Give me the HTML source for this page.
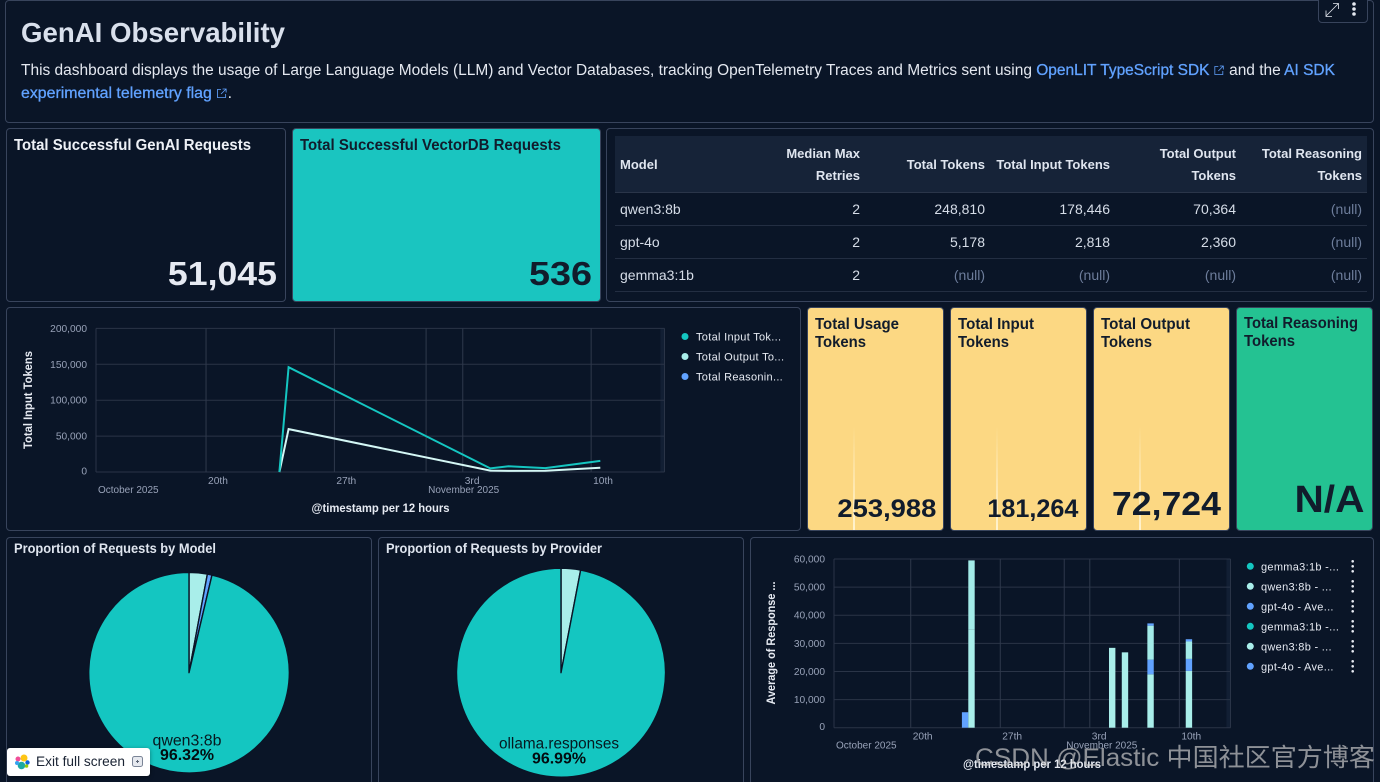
<!DOCTYPE html>
<html lang="en">
<head>
<meta charset="utf-8">
<title>GenAI Observability</title>
<style>
html,body{margin:0;padding:0;background:#0a1527;}
html{width:1380px;height:782px;overflow:hidden;}
body{width:1380px;height:782px;overflow:hidden;position:relative;font-family:"Liberation Sans","Noto Sans CJK SC",sans-serif;color:#dfe5ef;}
.panel{position:absolute;box-sizing:border-box;border:1px solid #38445c;border-radius:4px;background:#0a1527;}
.open{border-bottom:none;border-radius:4px 4px 0 0;}
.t{position:absolute;white-space:nowrap;display:inline-block;}
.b{font-weight:700;}
a{color:#61a2ff;text-decoration:none;font-weight:400;-webkit-text-stroke:.3px #61a2ff;}
.dark{color:#111c2c;}
.num{line-height:1;font-weight:700;}
.ct{font-size:15.5px;font-weight:700;line-height:17px;color:#111c2c;}
svg text{font-family:"Liberation Sans",sans-serif;}
table{position:absolute;left:615px;top:136px;width:752px;border-collapse:collapse;table-layout:fixed;font-size:14px;}
th{background:#162338;font-size:13px;font-weight:700;line-height:22px;height:56px;padding:2px 5px 0;text-align:right;color:#dfe5ef;border-bottom:1px solid #2a3549;box-sizing:border-box;}
td{height:33px;padding:0 5px;text-align:right;color:#d6dde8;border-bottom:1px solid #232e42;box-sizing:border-box;}
th:first-child,td:first-child{text-align:left;}
td.null{color:#6d7d9b;}
</style>
</head>
<body>

<div class="panel" style="left:5px;top:0;width:1369px;height:123px"></div>
<div class="t b" data-w="264" style="left:21px;top:16px;font-size:28px;line-height:34px;color:#d9e0ec">GenAI Observability</div>
<div class="t" data-w="1314" style="left:21px;top:60px;font-size:15.5px;line-height:22px;color:#e4e8f0">This dashboard displays the usage of Large Language Models (LLM) and Vector Databases, tracking OpenTelemetry Traces and Metrics sent using <a href="#">OpenLIT TypeScript SDK</a> <svg width="11" height="11" viewBox="0 0 11 11" style="vertical-align:-1px"><path d="M5 1.5H1.5v8h8V6M6.5 1H10v3.500M10 1L5 6" fill="none" stroke="#61a2ff" stroke-width=".8"/></svg> and the <a href="#">AI SDK</a></div>
<div class="t" data-w="211" style="left:21px;top:83px;font-size:15.5px;line-height:22px;color:#e4e8f0"><a href="#">experimental telemetry flag</a> <svg width="11" height="11" viewBox="0 0 11 11" style="vertical-align:-1px"><path d="M5 1.5H1.500v8h8V6M6.500 1H10v3.500M10 1L5 6" fill="none" stroke="#61a2ff" stroke-width=".8"/></svg>.</div>

<div style="position:absolute;left:1318px;top:-2px;width:50px;height:25px;box-sizing:border-box;border:1px solid #38445c;border-radius:0 0 4px 4px;background:#0a1527">
  <svg width="50" height="25" style="position:absolute;left:-1px;top:-1px">
    <g><path d="M8 18L20 6M15 5.500h5.500V11M8 12.500V18.500H14" fill="none" stroke="#e4e8f0" stroke-width=".8"/></g>
    <g fill="#e4e8f0"><circle cx="36" cy="6" r="1.800"/><circle cx="36" cy="11" r="1.800"/><circle cx="36" cy="16" r="1.800"/></g>
  </svg>
</div>

<!-- stat panels -->
<div class="panel" style="left:6px;top:128px;width:280px;height:174px"></div>
<div class="t b" data-w="237" style="left:14px;top:137px;font-size:15.5px;line-height:18px;color:#eef1f6">Total Successful GenAI Requests</div>
<div class="t num" data-w="109" style="right:1103px;top:257px;font-size:33px;color:#e6eaf2">51,045</div>

<div class="panel" style="left:292px;top:128px;width:309px;height:174px;background:#1ac5c0"></div>
<div class="t b dark" data-w="261" style="left:300px;top:137px;font-size:15.5px;line-height:18px">Total Successful VectorDB Requests</div>
<div class="t num dark" data-w="63" style="right:788px;top:257px;font-size:33px">536</div>

<!-- table -->
<div class="panel" style="left:606px;top:128px;width:768px;height:174px"></div>
<table>
<colgroup><col style="width:125px"><col style="width:125px"><col style="width:125px"><col style="width:125px"><col style="width:126px"><col style="width:126px"></colgroup>
<thead><tr>
<th>Model</th>
<th>Median Max<br>Retries</th>
<th>Total Tokens</th>
<th>Total Input Tokens</th>
<th>Total Output<br>Tokens</th>
<th>Total Reasoning<br>Tokens</th>
</tr></thead>
<tbody>
<tr><td>qwen3:8b</td><td>2</td><td>248,810</td><td>178,446</td><td>70,364</td><td class="null">(null)</td></tr>
<tr><td>gpt-4o</td><td>2</td><td>5,178</td><td>2,818</td><td>2,360</td><td class="null">(null)</td></tr>
<tr><td>gemma3:1b</td><td>2</td><td class="null">(null)</td><td class="null">(null)</td><td class="null">(null)</td><td class="null">(null)</td></tr>
</tbody>
</table>

<!-- line chart panel -->
<div class="panel" style="left:6px;top:307px;width:795px;height:224px"></div>

<!-- token cards -->
<div class="panel" style="left:807px;top:307px;width:137px;height:224px;background:#fcd883;overflow:hidden"><div style="position:absolute;left:45px;top:118px;width:2px;height:106px;background:linear-gradient(#fcd88300,#fff3d0)"></div></div>
<div class="panel" style="left:950px;top:307px;width:137px;height:224px;background:#fcd883;overflow:hidden"><div style="position:absolute;left:45px;top:118px;width:2px;height:106px;background:linear-gradient(#fcd88300,#fff3d0)"></div></div>
<div class="panel" style="left:1093px;top:307px;width:137px;height:224px;background:#fcd883;overflow:hidden"><div style="position:absolute;left:45px;top:118px;width:2px;height:106px;background:linear-gradient(#fcd88300,#fff3d0)"></div></div>
<div class="panel" style="left:1236px;top:307px;width:137px;height:224px;background:#24c292"></div>

<div class="t ct" data-w="84" style="left:815px;top:316px">Total Usage</div>
<div class="t ct" data-w="51" style="left:815px;top:334px">Tokens</div>
<div class="t ct" data-w="76" style="left:958px;top:316px">Total Input</div>
<div class="t ct" data-w="51" style="left:958px;top:334px">Tokens</div>
<div class="t ct" data-w="89" style="left:1101px;top:316px">Total Output</div>
<div class="t ct" data-w="51" style="left:1101px;top:334px">Tokens</div>
<div class="t ct" data-w="114" style="left:1244px;top:315px">Total Reasoning</div>
<div class="t ct" data-w="51" style="left:1244px;top:333px">Tokens</div>

<div class="t num dark" data-w="99" style="right:444px;top:497px;font-size:25px">253,988</div>
<div class="t num dark" data-w="91" style="right:302px;top:497px;font-size:25px">181,264</div>
<div class="t num dark" data-w="109" style="right:159px;top:487px;font-size:33px">72,724</div>
<div class="t num dark" data-w="70" style="right:16px;top:481px;font-size:38px">N/A</div>

<!-- bottom panels -->
<div class="panel open" style="left:6px;top:537px;width:366px;height:245px"></div>
<div class="t b" data-w="202" style="left:14px;top:541px;font-size:13.500px;line-height:16px">Proportion of Requests by Model</div>
<div class="panel open" style="left:378px;top:537px;width:366px;height:245px"></div>
<div class="t b" data-w="216" style="left:386px;top:541px;font-size:13.500px;line-height:16px">Proportion of Requests by Provider</div>
<div class="panel open" style="left:750px;top:537px;width:624px;height:245px"></div>

<svg id="charts" width="1380" height="782" style="position:absolute;left:0;top:0"></svg>

<div class="t" data-w="400" style="left:975px;top:742px;font-size:25px;line-height:32px;color:rgba(205,205,205,.68)">CSDN @Elastic 中国社区官方博客</div>

<div style="position:absolute;left:7px;top:748px;width:143px;height:28px;background:#fff;border-radius:3px;box-shadow:0 1px 4px rgba(0,0,0,.4)">
  <svg width="24" height="24" style="position:absolute;left:3px;top:2px">
    <circle cx="14" cy="8" r="3.500" fill="#fec514"/><circle cx="8" cy="9" r="2.500" fill="#f04e98"/><circle cx="17.500" cy="12.500" r="2.200" fill="#0b64dd"/><circle cx="11.500" cy="15.500" r="3.800" fill="#1ba9a5"/><circle cx="7" cy="13" r="2" fill="#36a2ef"/><circle cx="16.500" cy="16" r="1.800" fill="#93c90e"/>
  </svg>
  <div class="t" data-w="89" style="left:29px;top:6px;font-size:13.500px;line-height:16px;color:#1a2333">Exit full screen</div>
  <svg width="14" height="14" style="position:absolute;left:124px;top:7px"><rect x="1.500" y="1.500" width="10" height="10" rx="2" fill="#e6e9ef" stroke="#7a8496"/><path d="M5 6.500h3M6.500 5v3" stroke="#5a6474"/></svg>
</div>

<script>
/* ---- line chart data ---- */
var lineDates = ['2025-10-24T00:00Z','2025-10-24T12:00Z','2025-11-04T12:00Z','2025-11-05T12:00Z','2025-11-07T12:00Z','2025-11-10T12:00Z'];
var inputTokens = [0,146000,5000,8000,5500,15500];
var outputTokens = [0,59700,2000,1500,1800,6000];
var lineLegend = ['Total Input Tok...','Total Output To...','Total Reasonin...'];
var lineYTicks = [0,50000,100000,150000,200000];

/* ---- shared time axis ---- */
var timeDomain = ['2025-10-14T00:00Z','2025-11-14T00:00Z'];
var timeTicks = ['2025-10-20T00:00Z','2025-10-27T00:00Z','2025-11-03T00:00Z','2025-11-10T00:00Z'];
var timeTickLabels = ['20th','27th','3rd','10th'];
var monthTicks = ['2025-10-14T00:00Z','2025-11-01T00:00Z'];
var monthTickLabels = ['October 2025','November 2025'];

/* ---- bar chart data ---- */
var barDates = ['2025-10-24T00:00Z','2025-10-24T12:00Z','2025-11-04T12:00Z','2025-11-05T12:00Z','2025-11-07T12:00Z','2025-11-10T12:00Z'];
var qwenResponseA = [0,35000,28400,26800,19000,20200];
var gptResponseA = [5500,0,0,0,5200,4270];
var gemmaResponseA = [0,0,0,0,0,0];
var qwenResponseB = [0,24500,0,0,12100,6200];
var gptResponseB = [0,0,0,0,800,800];
var gemmaResponseB = [0,0,0,0,0,0];
var barYTicks = [0,10000,20000,30000,40000,50000,60000];
var barLegend = ['gemma3:1b -...','qwen3:8b - ...','gpt-4o - Ave...','gemma3:1b -...','qwen3:8b - ...','gpt-4o - Ave...'];

/* ---- pie data ---- */
var modelNames = ['gemma3:1b','gpt-4o','qwen3:8b'];
var modelShares = [2.93,0.75,96.32];
var providerNames = ['openai.responses','ollama.responses'];
var providerShares = [3.01,96.99];

var TEAL = '#14c6c1', LIGHT = '#a9eeea', BLUE = '#61a2ff', WHITEISH = '#d4f7f5';
var GRID = '#2a3447', TICK = '#98a2b8';
var NS = 'http://www.w3.org/2000/svg';
var root = document.getElementById('charts');

function mk(parent, tag, attrs, text) {
  var e = document.createElementNS(NS, tag);
  for (var k in attrs) e.setAttribute(k, attrs[k]);
  if (text !== undefined) e.textContent = text;
  parent.appendChild(e);
  return e;
}
function fmt(v) { return v.toLocaleString('en-US'); }
function ms(d) { return Date.parse(d); }
function timeScale(x0, x1) {
  var a = ms(timeDomain[0]), b = ms(timeDomain[1]);
  return function (d) { return x0 + (ms(d) - a) / (b - a) * (x1 - x0); };
}
function linScale(maxV, y0, y1) {
  return function (v) { return y0 + (v / maxV) * (y1 - y0); };
}

function drawAxes(name, x, y, x0, x1, y0, y1, yTicks, tickX, tickLabelDy) {
  var g = mk(root, 'g', {});
  
  
  mk(g, 'rect', {x: x1 - 4, y: y1, width: 4, height: y0 - y1, fill: '#16233a', opacity: .7});
  yTicks.forEach(function (v) {
    var line = mk(g, 'line', {x1: x0, x2: x1, y1: y(v), y2: y(v), stroke: GRID});
    
    
    var lab = mk(g, 'text', {x: tickX, y: y(v) + 3.5 + (v === 0 ? -1 : 0), 'text-anchor': 'end', 'font-size': 10.2, fill: TICK}, fmt(v));
    
    
  });
  mk(g, 'line', {x1: x0, x2: x0, y1: y1, y2: y0, stroke: GRID});
  mk(g, 'line', {x1: x1, x2: x1, y1: y1, y2: y0, stroke: GRID});
  timeTicks.forEach(function (d, i) {
    var line = mk(g, 'line', {x1: x(d), x2: x(d), y1: y1, y2: y0, stroke: '#2f394c'});
    
    
    var lab = mk(g, 'text', {x: x(d) + 2, y: y0 + 12, 'font-size': 10.2, fill: TICK}, timeTickLabels[i]);
    
    
  });
  monthTicks.forEach(function (d, i) {
    if (i > 0) mk(g, 'line', {x1: x(d), x2: x(d), y1: y1, y2: y0, stroke: '#2f394c'});
    var lab = mk(g, 'text', {x: x(d) + 2, y: y0 + tickLabelDy, 'font-size': 10, fill: TICK}, monthTickLabels[i]);
    
    
  });
}

/* line chart */
(function () {
  var x = timeScale(96, 664.5), y = linScale(200000, 472, 328.4);
  drawAxes('line-chart', x, y, 96, 664.5, 472, 328.4, lineYTicks, 87, 21);
  var t1 = mk(root, 'text', {transform: 'translate(32,400) rotate(-90)', 'text-anchor': 'middle', 'font-size': 11.5, 'font-weight': 700, fill: '#e6eaf2', textLength: 98, lengthAdjust: 'spacingAndGlyphs'}, 'Total Input Tokens');
  
  
  var t2 = mk(root, 'text', {x: 380.5, y: 512, 'text-anchor': 'middle', 'font-size': 11.5, 'font-weight': 700, fill: '#e6eaf2', textLength: 138, lengthAdjust: 'spacingAndGlyphs'}, '@timestamp per 12 hours');
  
  
  function path(vals) {
    return vals.map(function (v, i) { return (i ? 'L' : 'M') + x(lineDates[i]).toFixed(1) + ' ' + y(v).toFixed(1); }).join('');
  }
  var pOut = mk(root, 'path', {d: path(outputTokens), fill: 'none', stroke: WHITEISH, 'stroke-width': 2});
  
  
  var pIn = mk(root, 'path', {d: path(inputTokens), fill: 'none', stroke: TEAL, 'stroke-width': 2});
  
  
  var colors = [TEAL, LIGHT, BLUE];
  lineLegend.forEach(function (s, i) {
    var g = mk(root, 'g', {});
    
    
    mk(g, 'circle', {cx: 685, cy: 336.5 + i * 20, r: 3.5, fill: colors[i]});
    mk(g, 'text', {x: 696, y: 340.5 + i * 20, 'font-size': 11, fill: '#e6eaf2', 'letter-spacing': .3}, s);
  });
})();

/* bar chart */
(function () {
  var x = timeScale(834, 1230.5), y = linScale(60000, 727.7, 559);
  drawAxes('bar-chart', x, y, 834, 1230.5, 727.7, 559, barYTicks, 825, 21);
  var t1 = mk(root, 'text', {transform: 'translate(775,643) rotate(-90)', 'text-anchor': 'middle', 'font-size': 11.5, 'font-weight': 700, fill: '#e6eaf2', textLength: 123, lengthAdjust: 'spacingAndGlyphs'}, 'Average of Response ...');
  
  
  var t2 = mk(root, 'text', {x: 1032, y: 768, 'text-anchor': 'middle', 'font-size': 11.5, 'font-weight': 700, fill: '#e6eaf2', textLength: 138, lengthAdjust: 'spacingAndGlyphs'}, '@timestamp per 12 hours');
  
  
  var stack = [
    [qwenResponseA, LIGHT, 'qwen-a'],
    [gptResponseA, BLUE, 'gpt-a'],
    [gemmaResponseA, TEAL, 'gemma-a'],
    [qwenResponseB, '#a3ebe8', 'qwen-b'],
    [gptResponseB, BLUE, 'gpt-b'],
    [gemmaResponseB, TEAL, 'gemma-b']
  ];
  var barW = (x(timeDomain[1]) - x(timeDomain[0])) / 62;
  barDates.forEach(function (d, i) {
    var total = 0;
    stack.forEach(function (s) {
      var v = s[0][i];
      if (!v) return;
      var r = mk(root, 'rect', {x: x(d), y: y(total + v), width: barW, height: y(total) - y(total + v), fill: s[1]});
      
      
      total += v;
    });
  });
  var colors = [TEAL, LIGHT, BLUE, TEAL, LIGHT, BLUE];
  barLegend.forEach(function (s, i) {
    var g = mk(root, 'g', {});
    
    
    var cy = 566.3 + i * 20;
    mk(g, 'circle', {cx: 1250.3, cy: cy, r: 3.5, fill: colors[i]});
    mk(g, 'text', {x: 1261, y: cy + 4, 'font-size': 11, fill: '#e6eaf2', 'letter-spacing': .3}, s);
    [-5, 0, 5].forEach(function (o) { mk(g, 'circle', {cx: 1352.7, cy: cy + o, r: 1.3, fill: '#e6eaf2'}); });
  });
})();

/* pies */
function drawPie(name, names, shares, colors, cx, cy, R, fs) {
  var g = mk(root, 'g', {});
  
  
  var total = shares.reduce(function (a, b) { return a + b; }, 0), acc = 0;
  var big = 0;
  shares.forEach(function (v, i) {
    if (v > shares[big]) big = i;
    var a0 = acc / total * 2 * Math.PI; acc += v;
    var a1 = acc / total * 2 * Math.PI;
    var d = 'M' + cx + ' ' + cy + 'L' + (cx + R * Math.sin(a0)) + ' ' + (cy - R * Math.cos(a0)) +
      'A' + R + ' ' + R + ' 0 ' + (a1 - a0 > Math.PI ? 1 : 0) + ' 1 ' + (cx + R * Math.sin(a1)) + ' ' + (cy - R * Math.cos(a1)) + 'Z';
    var p = mk(g, 'path', {d: d, fill: colors[i], stroke: '#0a1527', 'stroke-width': 1.4, 'stroke-linejoin': 'round'});
    
    
  });
  var l1 = mk(g, 'text', {x: cx - 2, y: cy + fs.y1, 'text-anchor': 'middle', 'font-size': 15.5, fill: '#06181f', textLength: fs.w1, lengthAdjust: 'spacingAndGlyphs'}, names[big]);
  
  
  var l2 = mk(g, 'text', {x: cx - 2, y: cy + fs.y2, 'text-anchor': 'middle', 'font-size': 15.5, 'font-weight': 700, fill: '#030c10', textLength: 54, lengthAdjust: 'spacingAndGlyphs'}, shares[big].toFixed(2) + '%');
  
  
}
drawPie('model-pie', modelNames, modelShares, [LIGHT, BLUE, TEAL], 189, 672.7, 100.3, {y1: 73, y2: 87.500, w1: 69});
drawPie('provider-pie', providerNames, providerShares, [LIGHT, TEAL], 561, 672.7, 104.5, {y1: 76, y2: 91, w1: 120});

/* fit text widths by horizontal scaling */
document.querySelectorAll('[data-w]').forEach(function (el) {
  var target = parseFloat(el.getAttribute('data-w'));
  var cur = el.getBoundingClientRect().width;
  el.style.transformOrigin = el.style.right ? 'right center' : 'left center';
  el.style.transform = 'scaleX(' + (target / cur).toFixed(4) + ')';
});
</script>
</body>
</html>
